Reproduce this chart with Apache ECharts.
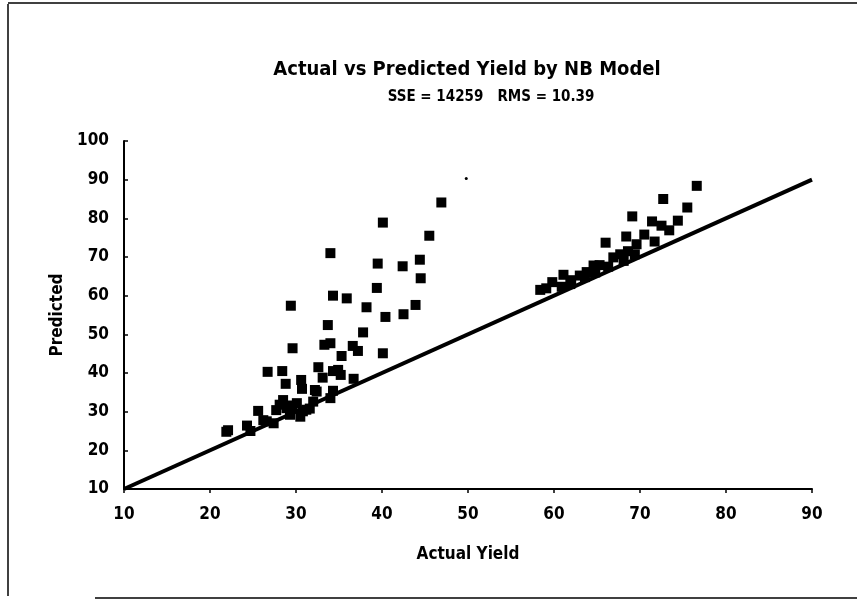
<!DOCTYPE html>
<html>
<head>
<meta charset="utf-8">
<script src="https://cdn.jsdelivr.net/npm/echarts@6/dist/echarts.min.js"></script>
<style>
  html, body { margin: 0; padding: 0; background: #fff; }
  #chart { width: 857px; height: 606px; }
</style>
</head>
<body>
<div id="chart"></div>
<script>
// ---- Data ----
const titleText = 'Actual vs Predicted Yield by NB Model';
const subtitleText = 'SSE = 14259   RMS = 10.39';
const xAxisName = 'Actual Yield';
const yAxisName = 'Predicted';

const xTicks = [10, 20, 30, 40, 50, 60, 70, 80, 90];
const yTicks = [10, 20, 30, 40, 50, 60, 70, 80, 90, 100];

// Lower-yield group (actual, predicted)
const lowActual = [21.9, 22.1, 24.3, 24.7, 25.6, 26.2, 26.6, 27.4, 27.7,
  28.1, 28.5, 28.9, 29.3, 29.6, 30.1, 30.5, 30.8, 31.2, 31.6, 32.0, 32.4, 34.3, 34.0,
  26.7, 28.4, 28.8, 30.6, 30.7, 32.2, 32.6, 33.1, 34.3, 34.9, 35.2,
  36.7, 35.3, 36.6, 37.2, 33.3, 34.0, 29.6, 40.1, 33.7, 37.8, 29.4, 34.3, 35.9, 38.2,
  43.9, 40.4, 42.5, 39.4, 44.5, 42.4, 39.5, 44.4, 34.0, 45.5, 40.1, 46.9];
const lowPredicted = [24.8, 25.2, 26.4, 25.0, 30.2, 27.8, 27.5, 27.0, 30.4,
  31.8, 33.0, 30.9, 29.2, 31.6, 32.2, 28.7, 30.1, 30.5, 30.8, 32.6, 35.2, 35.4, 33.5,
  40.3, 40.5, 37.2, 38.2, 35.9, 35.6, 41.5, 38.8, 40.5, 40.8, 39.5,
  38.5, 44.4, 47.0, 45.7, 47.3, 47.7, 46.4, 45.1, 52.4, 50.5, 57.4, 60.0, 59.3, 57.0,
  57.6, 54.5, 55.2, 62.0, 64.5, 67.6, 68.3, 69.3, 71.0, 75.5, 78.9, 84.1];

// Higher-yield group (actual, predicted)
const highActual = [58.4, 59.1, 59.8, 60.9, 61.1, 61.9, 62.0, 63.0, 63.6, 63.8,
  64.6, 64.8, 65.3, 66.0, 66.3, 66.9, 67.7, 68.1, 68.4, 68.6, 69.1, 69.4, 69.6,
  70.5, 71.4, 71.7, 72.5, 72.7, 73.4, 74.4, 75.5, 76.6];
const highPredicted = [61.5, 61.9, 63.5, 62.3, 65.4, 63.0, 64.0, 65.2, 64.8, 66.1,
  67.8, 66.0, 67.9, 73.7, 67.5, 69.9, 70.7, 69.0, 75.3, 71.5, 80.5, 70.7, 73.3,
  75.8, 79.2, 74.0, 78.1, 85.0, 76.9, 79.4, 82.8, 88.4];

// Faint partially printed point
const faintActual = [49.8];
const faintPredicted = [90.3];

// Reference line (actual = predicted)
const refLineX = [10, 90];
const refLineY = [10, 90];

const zip = (a, b) => a.map((v, i) => [v, b[i]]);

const FONT = "'Liberation Sans Narrow', 'DejaVu Sans Condensed', 'Liberation Sans', sans-serif";

const chart = echarts.init(document.getElementById('chart'), null, { renderer: 'canvas' });

chart.setOption({
  backgroundColor: '#ffffff',
  animation: false,
  grid: { left: 124, right: 45, top: 141, bottom: 117, containLabel: false },
  xAxis: {
    type: 'value',
    min: xTicks[0], max: xTicks[xTicks.length - 1], interval: 10,
    name: xAxisName, nameLocation: 'middle', nameGap: 57,
    nameTextStyle: { fontFamily: FONT, fontWeight: 'bold', fontSize: 17, color: '#000' },
    axisLine: { show: true, lineStyle: { color: '#000', width: 2 } },
    axisTick: { show: true, length: 4, lineStyle: { color: '#000', width: 1.5 } },
    axisLabel: { fontFamily: FONT, fontWeight: 'bold', fontSize: 17, color: '#000', margin: 17 },
    splitLine: { show: false }
  },
  yAxis: {
    type: 'value',
    min: yTicks[0], max: yTicks[yTicks.length - 1], interval: 10,
    name: yAxisName, nameLocation: 'middle', nameGap: 53,
    nameTextStyle: { fontFamily: FONT, fontWeight: 'bold', fontSize: 17, color: '#000' },
    axisLine: { show: true, lineStyle: { color: '#000', width: 2 } },
    axisTick: { show: true, inside: true, length: 4, lineStyle: { color: '#000', width: 1.5 } },
    axisLabel: { fontFamily: FONT, fontWeight: 'bold', fontSize: 17, color: '#000', margin: 15 },
    splitLine: { show: false }
  },
  graphic: [
    { type: 'text', x: 467, y: 70,
      style: { text: titleText, fill: '#000', font: 'bold 20px ' + FONT, textAlign: 'center', textVerticalAlign: 'middle' } },
    { type: 'text', x: 491, y: 97,
      style: { text: subtitleText, fill: '#000', font: 'bold 15px ' + FONT, textAlign: 'center', textVerticalAlign: 'middle' } },
    { type: 'line', shape: { x1: 8, y1: 4, x2: 8, y2: 596 }, style: { stroke: '#000', lineWidth: 1.5 } },
    { type: 'line', shape: { x1: 8, y1: 3, x2: 857, y2: 3 }, style: { stroke: '#000', lineWidth: 1.5 } },
    { type: 'line', shape: { x1: 95, y1: 598, x2: 857, y2: 598 }, style: { stroke: '#000', lineWidth: 1.5 } }
  ],
  series: [
    {
      type: 'line',
      data: zip(refLineX, refLineY),
      showSymbol: false,
      lineStyle: { color: '#000', width: 4 },
      z: 1
    },
    {
      type: 'scatter',
      data: zip(lowActual, lowPredicted),
      symbol: 'rect', symbolSize: 10,
      itemStyle: { color: '#000', opacity: 1 },
      z: 2
    },
    {
      type: 'scatter',
      data: zip(highActual, highPredicted),
      symbol: 'rect', symbolSize: 10,
      itemStyle: { color: '#000', opacity: 1 },
      z: 2
    },
    {
      type: 'scatter',
      data: zip(faintActual, faintPredicted),
      symbol: 'circle', symbolSize: 3,
      itemStyle: { color: '#000', opacity: 1 },
      z: 2
    }
  ]
});
</script>
</body>
</html>
